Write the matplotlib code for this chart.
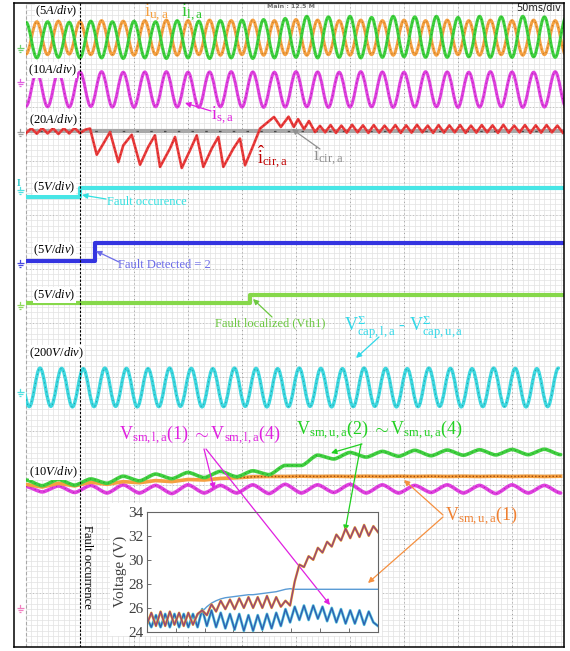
import numpy as np
import matplotlib
matplotlib.use("Agg")
import matplotlib.pyplot as plt
from matplotlib.patches import Rectangle, PathPatch
from matplotlib.path import Path

plt.rcParams["font.family"] = ["Liberation Serif", "DejaVu Serif"]
plt.rcParams["mathtext.fontset"] = "custom"
plt.rcParams["mathtext.rm"] = "Liberation Serif"
plt.rcParams["mathtext.it"] = "Liberation Serif:italic"
plt.rcParams["mathtext.bf"] = "Liberation Serif:bold"

# scope screen: 10 horizontal divisions of 50 ms, 54 screen px per division
MS_PER_DIV = 50
DIV = 54
X0, X1 = 26, 564
Y0, Y1 = 3, 647

# ---------------- data ----------------
# half-cycle extremes of the 50 Hz waveforms (ms)
t_half = np.arange(0, 501, 10)

# upper / lower arm currents (A), 5 A/div
i_ua = [-1.40, 1.60, -1.45, 1.65, -1.40, 1.60, -1.45, 1.70, -1.45, 1.65,
        -1.50, 1.70, -1.45, 1.75, -1.50, 1.70, -1.45, 1.75, -1.50, 1.70,
        -1.45, 1.75, -1.50, 1.70, -1.45, 1.80, -1.50, 1.75, -1.45, 1.70,
        -1.50, 1.75, -1.45, 1.70, -1.50, 1.75, -1.45, 1.70, -1.50, 1.75,
        -1.45, 1.70, -1.50, 1.75, -1.45, 1.70, -1.50, 1.75, -1.45, 1.70,
        -1.50]
i_la = [1.55, -1.75, 1.60, -1.70, 1.55, -1.75, 1.65, -1.75, 1.60, -1.80,
        1.65, -1.75, 1.60, -1.80, 1.70, -1.75, 1.65, -1.80, 1.70, -1.75,
        1.75, -1.80, 1.80, -1.75, 1.90, -1.70, 2.10, -1.75, 2.05, -1.70,
        2.10, -1.75, 2.00, -1.70, 2.10, -1.65, 2.05, -1.70, 2.10, -1.70,
        2.00, -1.65, 2.10, -1.70, 2.05, -1.70, 2.10, -1.65, 2.05, -1.70,
        2.00]
# output current (A), 10 A/div
i_sa = [-3.10, 3.25, -3.20, 3.20, -3.25, 3.25, -3.15, 3.30, -3.25, 3.20,
        -3.30, 3.25, -3.20, 3.30, -3.25, 3.20, -3.30, 3.25, -3.20, 3.30,
        -3.25, 3.25, -3.30, 3.20, -3.25, 3.30, -3.20, 3.25, -3.30, 3.20,
        -3.25, 3.30, -3.20, 3.25, -3.30, 3.20, -3.25, 3.30, -3.20, 3.25,
        -3.30, 3.20, -3.25, 3.30, -3.20, 3.25, -3.30, 3.20, -3.25, 3.30,
        -3.20]

# measured circulating current (A), 20 A/div
t_cir = [0, 5, 10, 15, 20, 25, 30, 35, 40, 45, 50,
         55, 59.3, 65.5, 71.6, 77.8, 85.5, 90.1, 97.9, 105.6, 113.2,
         119.4, 124.1, 133.3, 138, 144.2, 151.9, 158.1, 164.2, 172, 178.1,
         182.7, 192, 198.1, 202.8, 210.5, 216.7, 229.6, 236, 243.1, 248,
         251.9, 257.4, 262, 267.6, 272.2,
         277, 282, 287, 292, 297, 302, 307, 312, 317, 322, 327, 332, 337,
         342, 347, 352, 357, 362, 367, 372, 377, 382, 387, 392, 397, 402,
         407, 412, 417, 422, 427, 432, 437, 442, 447, 452, 457, 462, 467,
         472, 477, 482, 487, 492, 497]
i_cir = [-0.8, 1.0, -1.0, 1.1, -0.9, 1.0, -1.1, 1.0, -0.9, 1.1, -0.8,
         0.5, 0.9, -8.8, -4.7, -0.4, -11.5, -5.3, -1.4, -12.5, -5.9,
         -1.6, -13.3, -6.5, -2.2, -13.7, -7.1, -1.6, -13.3, -6.5, -2.2,
         -13.3, -6.5, -2.8, -12.7, -5.3, 0.9, 5.2, 1.5, 5.3, 1.5,
         4.4, 0.7, 3.7, -0.4, 1.9,
         -0.5, 2.2, -0.7, 2.0, -0.6, 2.3, -0.5, 2.1, -0.7, 2.2, -0.6, 2.0, -0.5,
         2.2, -0.7, 2.1, -0.6, 2.3, -0.5, 2.0, -0.7, 2.2, -0.6, 2.1, -0.5, 2.2,
         -0.7, 2.0, -0.6, 2.2, -0.5, 2.1, -0.7, 2.3, -0.6, 2.0, -0.5, 2.2, -0.7,
         2.1, -0.6, 2.2, -0.5, 2.0, -0.6]
# estimated circulating current (A)
t_cir_est = [0, 500]
i_cir_est = [0.0, 0.0]

# fault flags (V), 5 V/div
t_flag_occ = [0, 50, 500]
v_flag_occ = [0.0, 0.85, 0.85]
t_flag_det = [0, 64, 500]
v_flag_det = [0.0, 1.65, 1.65]
t_flag_loc = [0, 207, 500]
v_flag_loc = [0.0, 0.75, 0.75]

# lower minus upper arm capacitor voltage sum (V), 200 V/div
t_vcap = np.arange(-7, 500, 10)
v_cap = [70, -71, 72, -70, 71, -72, 70, -71, 72, -70,
         71, -72, 70, -71, 72, -70, 71, -72, 70, -71,
         72, -70, 71, -72, 70, -71, 72, -70, 71, -72,
         70, -71, 72, -70, 71, -72, 70, -71, 72, -70,
         71, -72, 70, -71, 72, -70, 71, -72, 70, -71, 72]

# submodule voltages (V), 10 V/div
t_sm = np.arange(0, 501, 15)
v_sm_u24 = [23.7, 22.65, 23.8, 22.75, 23.9, 23.1, 24.4, 23.55, 24.8, 23.95,
            25.1, 24.15, 25.3, 24.3, 25.4, 24.7, 26.4, 26.4, 28.3, 27.6,
            28.8, 27.95, 29.0, 28.1, 29.2, 28.2, 29.25, 28.3, 29.3, 28.35,
            29.35, 28.4, 29.4, 28.4]
v_sm_u1 = [22.9, 22.4, 23.1, 22.6, 23.3, 22.9, 23.4, 23.2, 23.6, 23.4,
           23.8, 23.7, 24.0, 24.1, 24.3, 24.35, 24.35, 24.4, 24.35, 24.4,
           24.35, 24.4, 24.35, 24.4, 24.35, 24.4, 24.35, 24.4, 24.35, 24.4,
           24.35, 24.4, 24.35, 24.4]
v_sm_l = [22.5, 21.5, 22.6, 21.4, 22.7, 21.3, 22.8, 21.3, 22.7, 21.2,
          22.8, 21.3, 22.7, 21.3, 22.8, 21.2, 22.9, 21.3, 22.8, 21.4,
          22.9, 21.3, 22.8, 21.3, 22.7, 21.4, 22.8, 21.3, 22.7, 21.2,
          22.8, 21.3, 22.7, 21.3]

# simulated submodule voltages for the inset (V)
t_sim = np.arange(0, 8.01, 0.16)
sim_u24 = [24.6, 25.6, 24.5, 25.7, 24.5, 25.7, 24.6, 25.6, 24.5, 25.6,
           24.6, 25.5, 25.8, 25.4, 26.3, 25.7, 26.6, 25.9, 26.7, 25.9,
           26.8, 26.0, 26.9, 26.0, 26.9, 26.0, 27.0, 26.0, 26.9, 26.1,
           26.6, 26.2, 28.2, 29.6, 29.4, 30.3, 30.0, 31.0, 30.6, 31.5,
           31.1, 32.1, 31.6, 32.6, 31.8, 32.7, 31.9, 32.9, 32.0, 32.8,
           32.3]
sim_u1 = [24.7, 25.5, 24.6, 25.6, 24.6, 25.6, 24.7, 25.5, 24.6, 25.5,
          24.7, 25.4, 25.7, 26.1, 26.4, 26.6, 26.75, 26.85, 26.9, 26.95,
          27.0, 27.05, 27.1, 27.1, 27.15, 27.2, 27.25, 27.3, 27.35, 27.45,
          27.55, 27.6, 27.55, 27.55, 27.55, 27.55, 27.55, 27.55, 27.55, 27.55,
          27.55, 27.55, 27.55, 27.55, 27.55, 27.55, 27.55, 27.55, 27.55, 27.55,
          27.55]
sim_l = [25.2, 24.4, 25.4, 24.4, 25.5, 24.4, 25.5, 24.4, 25.5, 24.4,
         25.5, 24.4, 25.9, 24.5, 25.8, 24.4, 25.6, 24.3, 25.5, 24.2,
         25.5, 24.1, 25.4, 24.1, 25.4, 24.2, 25.5, 24.3, 25.6, 24.5,
         25.9, 24.8, 26.1, 25.0, 26.2, 25.0, 26.2, 25.1, 26.1, 24.9,
         26.0, 24.8, 25.9, 24.7, 25.8, 24.7, 25.8, 24.6, 25.7, 24.8,
         24.5]

# ---------------- figure ----------------
W, H = 570, 651
fig = plt.figure(figsize=(W / 100, H / 100), dpi=100)
ax = fig.add_axes([14 / W, (H - Y1) / H, (X1 - 14) / W, (Y1 - Y0) / H])
ax.set_xlim(14, X1)
ax.set_ylim(Y1, Y0)
ax.set_xticks([])
ax.set_yticks([])
for s in ax.spines.values():
    s.set_linewidth(1.1)
    s.set_color("black")
    s.set_zorder(10)

screen = Rectangle((X0, Y0), X1 - X0, Y1 - Y0, transform=ax.transData)

# graticule
ax.vlines(np.arange(X0, X1, DIV / 10), Y0, Y1, color="#e2e2e2", lw=0.5, zorder=0)
ax.hlines(np.arange(Y1, Y0, -DIV / 10), X0, X1, color="#e2e2e2", lw=0.5, zorder=0)
ax.vlines(np.arange(X0 + DIV, X1, DIV), Y0, Y1, color="#9a9a9a", lw=0.7,
          linestyles=(0, (1, 3)), zorder=0.5)
ax.hlines(np.arange(Y1 - DIV, Y0, -DIV), X0, X1, color="#b0b0b0", lw=0.6,
          linestyles=(0, (1, 3)), zorder=0.5)
ax.axvline(X0, color="#a8a8a8", lw=0.8, ls=(0, (3, 2)), zorder=0.5)


def tx(t):
    return X0 + np.asarray(t, dtype=float) / MS_PER_DIV * DIV


def screen_y(v, zero, per_div):
    return zero - np.asarray(v, dtype=float) / per_div * DIV


def rounded(x, y, k):
    # bezier segments between successive extremes, flat at each turning point
    verts = [(x[0], y[0])]
    codes = [Path.MOVETO]
    for i in range(len(x) - 1):
        dx = x[i + 1] - x[i]
        verts += [(x[i] + k * dx, y[i]), (x[i + 1] - k * dx, y[i + 1]),
                  (x[i + 1], y[i + 1])]
        codes += [Path.CURVE4] * 3
    return Path(verts, codes)


def wave(t, v, zero, per_div, color, lw=2.2, dark=None, z=2, k=0.36):
    p = rounded(tx(t), screen_y(v, zero, per_div), k)
    pp = ax.add_patch(PathPatch(p, facecolor="none", edgecolor=color, lw=lw,
                                zorder=z, joinstyle="round", capstyle="round"))
    pp.set_clip_path(screen)
    if dark:
        dk = ax.add_patch(PathPatch(p, facecolor="none", edgecolor=dark, lw=0.6,
                                    alpha=0.45, zorder=z + 0.05,
                                    linestyle=(0, (1.5, 4))))
        dk.set_clip_path(screen)


def trace(t, v, zero, per_div, color, lw=2.2, dark=None, z=2, **kw):
    y = screen_y(v, zero, per_div)
    ln, = ax.plot(tx(t), y, color=color, lw=lw, zorder=z,
                  solid_joinstyle="round", **kw)
    ln.set_clip_path(screen)
    if dark:
        dk, = ax.plot(tx(t), y, color=dark, lw=0.6, alpha=0.45, zorder=z + 0.05,
                      dashes=(1.5, 4))
        dk.set_clip_path(screen)
    return ln


# channel 1-3: currents
wave(t_half, i_ua, 39, 5, "#f5a040", dark="#6a3a00")
wave(t_half, i_la, 39, 5, "#3ed23e", dark="#105010", z=2.1)
wave(t_half, i_sa, 89.5, 10, "#e040e0", dark="#601060")
trace(t_cir_est, i_cir_est, 131, 20, "#a8a8a8", lw=3.0)
trace(t_cir_est, i_cir_est, 131, 20, "#202020", lw=0.9, z=2.2,
      dashes=(2, 9), alpha=0.7)
trace(t_cir, i_cir, 131, 20, "#ec3c3c", lw=1.9, dark="#600000", z=2.3)

# channel 4-6: fault flags
trace(t_flag_occ, v_flag_occ, 197, 5, "#48e6e6", lw=3.0, drawstyle="steps-post")
trace(t_flag_det, v_flag_det, 261, 5, "#3434e0", lw=3.0, drawstyle="steps-post")
trace(t_flag_loc, v_flag_loc, 303, 5, "#86d84a", lw=3.0, drawstyle="steps-post")

# channel 7: capacitor voltage difference
wave(t_vcap, v_cap, 387.5, 200, "#3cd8e0", lw=2.4, dark="#104848")

# channel 8: submodule voltages
wave(t_sm, v_sm_l, 608, 10, "#e040e0", lw=2.6, dark="#601060", k=0.25)
trace(t_sm, v_sm_u1, 608, 10, "#f5a040", lw=2.6)
trace(t_sm[13:], v_sm_u1[13:], 608, 10, "#9a4a10", lw=1.0, z=2.4, dashes=(1, 1.5))
wave(t_sm, v_sm_u24, 608, 10, "#40d040", lw=2.6, dark="#105010", z=2.5, k=0.25)

# fault instant
ax.axvline(tx(50), color="black", lw=0.8, ls=(0, (2, 1.5)), zorder=3)

# ground references
grounds = [(48, "#70d070"), (82, "#e060e0"), (132, "#a0a0a0"), (190, "#50e0e0"),
           (263, "#4848e0"), (305, "#90d860"), (392, "#50e0e0"), (608, "#f080c0")]
for gy, gc in grounds:
    for i, w in enumerate([3.5, 2.5, 1.2]):
        ax.plot([20 - w, 20 + w], [gy + 2 * i, gy + 2 * i], color=gc, lw=0.9,
                solid_capstyle="butt")
    ax.plot([20, 20], [gy - 3, gy], color=gc, lw=0.9)
ax.text(19, 183, "I", color="#30c8c8", fontsize=7, fontweight="bold",
        ha="center", va="center")

# scale labels
box = dict(facecolor="white", edgecolor="none", pad=0.3)
for sx, sy, s in [(35, 11, "(5$\\mathit{A/div}$)"), (28, 70, "(10$\\mathit{A/div}$)"),
                  (29, 120, "(20$\\mathit{A/div}$)"), (33, 187, "(5$\\mathit{V/div}$)"),
                  (33, 250, "(5$\\mathit{V/div}$)"), (33, 295, "(5$\\mathit{V/div}$)"),
                  (29, 353, "(200$\\mathit{V/div}$)"), (29, 472, "(10$\\mathit{V/div}$)")]:
    ax.text(sx, sy, s, fontsize=9, ha="left", va="center", bbox=box, zorder=4)

ax.text(267, 6, "Main : 12.5 M", fontsize=4.5, color="#707070", fontweight="bold",
        family="DejaVu Sans", ha="left", va="center", zorder=4)
ax.text(561, 8, "50ms/div", fontsize=7, color="#202020", family="DejaVu Sans",
        ha="right", va="center", zorder=4)

# signal names
ax.text(144, 13, r"$\mathrm{i_{u,a}}$", fontsize=13.5, color="#f5a040", va="center", zorder=4)
ax.text(181, 13, r"$\mathrm{i_{l,a}}$", fontsize=13.5, color="#30c830", va="center", zorder=4)
ax.text(211, 116, r"$\mathrm{i_{s,a}}$", fontsize=13, color="#e020e0", va="center", zorder=4)
ax.text(257, 157, r"$\hat{\mathrm{i}}_{\mathrm{cir,a}}$", fontsize=13, color="#c00000",
        va="center", zorder=4)
ax.text(313, 157, r"$\mathrm{i_{cir,a}}$", fontsize=13, color="#909090", va="center", zorder=4)
ax.text(107, 202, "Fault occurence", fontsize=9, color="#30e0e0", va="center", zorder=4)
ax.text(118, 265, "Fault Detected = 2", fontsize=9, color="#6a6ae8", va="center", zorder=4)
ax.text(215, 323, "Fault localized (Vth1)", fontsize=9, color="#6cc840", va="center", zorder=4)
ax.text(344, 327, r"$\mathrm{V^{\Sigma}_{cap,l,a}}$ - $\mathrm{V^{\Sigma}_{cap,u,a}}$",
        fontsize=13, color="#30d8e8", va="center", zorder=4)
ax.text(119, 435, r"$\mathrm{V_{sm,l,a}(1)\ {\sim}V_{sm,l,a}(4)}$", fontsize=13,
        color="#e020e0", va="center", zorder=4)
ax.text(296, 430, r"$\mathrm{V_{sm,u,a}(2)\ {\sim}V_{sm,u,a}(4)}$", fontsize=13,
        color="#20d020", va="center", zorder=4)
ax.text(445, 516, r"$\mathrm{V_{sm,u,a}(1)}$", fontsize=13, color="#f08030",
        va="center", zorder=4)
ax.text(87, 567, "Fault occurrence", fontsize=9, rotation=270, ha="center",
        va="center", zorder=4)


def arrow(x0, y0, x1, y1, color):
    ax.annotate("", xy=(x1, y1), xytext=(x0, y0), zorder=6,
                arrowprops=dict(arrowstyle="-|>", color=color, lw=0.9,
                                mutation_scale=8, shrinkA=0, shrinkB=0))


arrow(211, 111, 185, 103, "#e020e0")
arrow(320, 149, 292, 129, "#909090")
arrow(106, 199, 82, 195, "#30e0e0")
arrow(119, 262, 96, 251, "#6a6ae8")
arrow(272, 317, 253, 299, "#6cc840")
arrow(379, 337, 356, 358, "#30d8e8")
arrow(204, 449, 214, 489, "#e020e0")
arrow(206, 449, 330, 605, "#e020e0")
arrow(362, 444, 331, 453, "#20d020")
arrow(361, 444, 345, 531, "#20d020")
arrow(443, 515, 404, 480, "#f59040")
arrow(443, 517, 368, 583, "#f59040")

# inset: simulated submodule voltages
ax.add_patch(Rectangle((110, 503), 272, 133, facecolor="white", edgecolor="none", zorder=5))
ins = fig.add_axes([146.7 / W, (H - 632) / H, 231.3 / W, 120.3 / H])
ins.patch.set_visible(False)
ins.plot(t_sim, sim_l, color="#5ccbe0", lw=2.0)
ins.plot(t_sim, sim_l, color="#2f5fb0", lw=1.0)
ins.plot(t_sim, sim_u1, color="#5a9bd5", lw=1.0)
ins.plot(t_sim, sim_u24, color="#e8b040", lw=1.8)
ins.plot(t_sim, sim_u24, color="#c05050", lw=1.1)
ins.plot(t_sim, sim_u24, color="#7e4a8e", lw=0.5)
ins.set_xlim(0, 8)
ins.set_ylim(24, 34)
ins.set_yticks([24, 26, 28, 30, 32, 34])
ins.set_xticks(range(1, 8))
ins.set_xticklabels([])
ins.tick_params(direction="in", length=3, width=0.6, colors="#555555",
                labelsize=11, labelcolor="#404040", pad=2)
for s in ins.spines.values():
    s.set_color("#666666")
    s.set_linewidth(0.8)
ins.set_ylabel("Voltage (V)", fontsize=11, color="#404040", labelpad=1)

fig.savefig("out.png", dpi=100)
